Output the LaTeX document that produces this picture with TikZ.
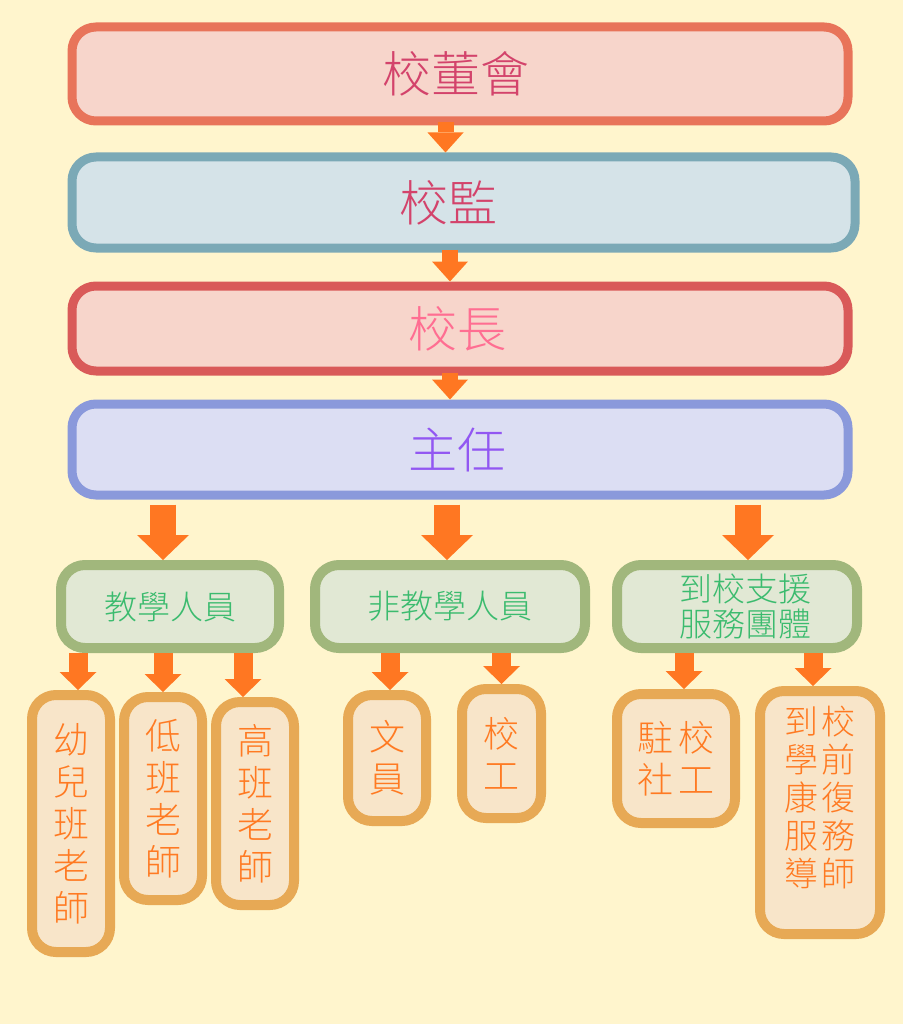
\documentclass[tikz,border=0pt]{standalone}
\usepackage{fontspec}
\newfontfamily\cjk{Noto Sans CJK TC}[UprightFont={* Light}]
\usetikzlibrary{arrows.meta,calc}
\definecolor{bg}{HTML}{FFF5CD}
\definecolor{aB}{HTML}{E8745A}\definecolor{aF}{HTML}{F7D5CB}\definecolor{aT}{HTML}{D3436B}
\definecolor{bB}{HTML}{7BA9B6}\definecolor{bF}{HTML}{D5E3E8}
\definecolor{cB}{HTML}{D95A59}\definecolor{cT}{HTML}{FF6E92}
\definecolor{dB}{HTML}{8A99DB}\definecolor{dF}{HTML}{DCDEF3}\definecolor{dT}{HTML}{9257F2}
\definecolor{gB}{HTML}{A1B77C}\definecolor{gF}{HTML}{E1E8D4}\definecolor{gT}{HTML}{3BBB6E}
\definecolor{oB}{HTML}{E7A955}\definecolor{oF}{HTML}{F8E5C9}\definecolor{oT}{HTML}{FF7A22}
\definecolor{arc}{HTML}{FF7722}
\begin{document}
\begin{tikzpicture}[x=1pt,y=-1pt,
  box/.style={rounded corners=24pt, align=center, inner sep=0pt},
  topbox/.style={box, line width=9pt, minimum width=776pt,
     font=\cjk\fontsize{49}{56}\selectfont},
  grnbox/.style={box, line width=10pt, draw=gB, fill=gF, text=gT, minimum height=83pt,
     font=\cjk\fontsize{33}{35}\selectfont},
  orgbox/.style={box, line width=10pt, draw=oB, fill=oF, text=oT, minimum width=78pt,
     font=\cjk\fontsize{36}{42}\selectfont},
  arrS/.style={draw=arc, line width=16pt, -{Triangle[width=36pt,length=20pt,line width=0pt]}},
  arrL/.style={draw=arc, line width=26pt, -{Triangle[width=52pt,length=25pt,line width=0pt]}},
  arrM/.style={draw=arc, line width=19pt, -{Triangle[width=37pt,length=18pt,line width=0pt]}}
]
\fill[bg] (0,0) rectangle (903,1024);
\useasboundingbox (0,0) rectangle (903,1024);

% top chain
\node[topbox, draw=aB, fill=aF, text=aT, minimum height=94pt] (b1) at (460,74) {\hspace*{-8pt}校董會};
\node[topbox, draw=bB, fill=bF, text=aT, minimum width=783pt, minimum height=91pt] (b2) at (463.5,202.5) {\hspace*{-30pt}校監};
\node[topbox, draw=cB, fill=aF, text=cT, minimum height=85pt] (b3) at (460,328.5) {\hspace*{-6pt}校長};
\node[topbox, draw=dB, fill=dF, text=dT, minimum height=91pt] (b4) at (460,449.5) {\hspace*{-6pt}主任};

% second level
\node[grnbox, minimum width=218pt] (j1) at (170,606.5) {教學人員};
\node[grnbox, minimum width=270pt] (j2) at (450,606.5) {非教學人員};
\node[grnbox, minimum width=240pt] (j3) at (737,606.5) {\hspace*{16pt}到校支援\\\hspace*{16pt}服務團體};

% third level
\node[orgbox, minimum height=257pt] (k1) at (71,823.5) {幼\\兒\\班\\老\\師};
\node[orgbox, minimum height=203pt] (k2) at (163,798.5) {低\\班\\老\\師};
\node[orgbox, minimum height=203pt] (k3) at (255,803.5) {高\\班\\老\\師};
\node[orgbox, minimum height=126pt] (k4) at (387,758) {文\\員};
\node[orgbox, minimum width=79pt, minimum height=129pt] (k5) at (501.5,753.5) {校\\工};
\node[orgbox, minimum width=118pt, minimum height=129pt] (k6) at (676,758.5) {駐\hspace{5pt}校\\社\hspace{5pt}工};
\node[orgbox, minimum width=120pt, minimum height=243pt,
      font=\cjk\fontsize{34}{38}\selectfont] (k7) at (820,812.5) {到\hspace{3pt}校\\學\hspace{3pt}前\\康\hspace{3pt}復\\服\hspace{3pt}務\\導\hspace{3pt}師\\[-6pt]};

% connectors
\draw[arrS] ($(b1.south)+(-14.5,-3)$) -- ($(b2.north)+(-18,0)$);
\draw[arrS] ($(b2.south)+(-13.5,-3)$) -- ($(b3.north)+(-10,0)$);
\draw[arrS] ($(b3.south)+(-10,-3)$) -- ($(b4.north)+(-10,0)$);

\draw[arrL] ($(j1.north |- b4.south)+(-7,5)$) -- ($(j1.north)+(-7,0)$);
\draw[arrL] ($(j2.north |- b4.south)+(-3,5)$) -- ($(j2.north)+(-3,0)$);
\draw[arrL] ($(j3.north |- b4.south)+(11,5)$) -- ($(j3.north)+(11,0)$);

\draw[arrM] ($(k1.north |- j1.south)+(7,0)$) -- ($(k1.north)+(7,0)$);
\draw[arrM] (k2.north |- j1.south) -- (k2.north);
\draw[arrM] ($(k3.north |- j1.south)+(-12,0)$) -- ($(k3.north)+(-12,0)$);
\draw[arrM] ($(k4.north |- j2.south)+(3,0)$) -- ($(k4.north)+(3,0)$);
\draw[arrM] (k5.north |- j2.south) -- (k5.north);
\draw[arrM] ($(k6.north |- j3.south)+(8,0)$) -- ($(k6.north)+(8,0)$);
\draw[arrM] ($(k7.north |- j3.south)+(-7,0)$) -- ($(k7.north)+(-7,0)$);
\end{tikzpicture}
\end{document}
